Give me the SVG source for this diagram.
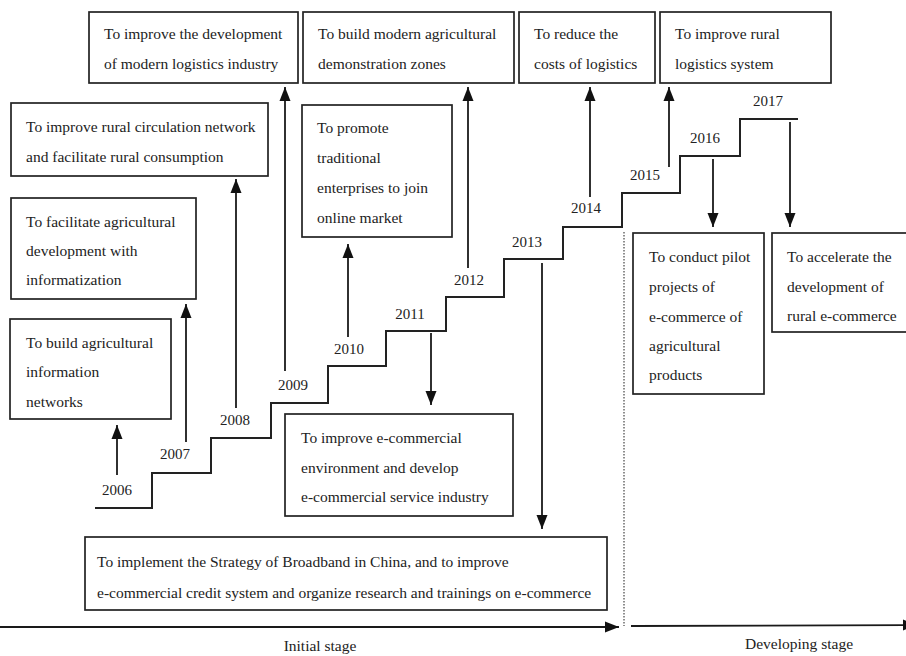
<svg xmlns="http://www.w3.org/2000/svg" width="906" height="656" viewBox="0 0 906 656">
<style>
.box{fill:#fff;stroke:#222;stroke-width:1.7}
.t{font-family:"Liberation Serif","Times New Roman",serif;font-size:15.5px;fill:#222}
.y{font-family:"Liberation Serif","Times New Roman",serif;font-size:15px;fill:#222;text-anchor:middle}
.c{fill:none;stroke:#1a1a1a;stroke-width:1.8}
.st{fill:none;stroke:#222;stroke-width:2}
.dot{fill:none;stroke:#444;stroke-width:1.2;stroke-dasharray:1.5 1.5}
</style>
<defs>
<marker id="ah" viewBox="0 0 14 12" refX="14" refY="6" markerWidth="14" markerHeight="12" markerUnits="userSpaceOnUse" orient="auto">
<path d="M0,0.5 L14,6 L0,11.5z" fill="#111"/>
</marker>
</defs>
<rect width="906" height="656" fill="#fff"/>

<g id="staircase">
<path class="st" d="M95,508 H152 V473 H211 V438 H271 V403 H328 V366 H386 V331 H446 V297 H504 V259 H563 V227 H622 V193 H680 V156 H740 V119 H798"/>
<text class="y" x="117" y="495">2006</text>
<text class="y" x="175" y="459">2007</text>
<text class="y" x="235" y="425">2008</text>
<text class="y" x="293" y="390">2009</text>
<text class="y" x="349" y="354">2010</text>
<text class="y" x="410" y="319">2011</text>
<text class="y" x="469" y="285">2012</text>
<text class="y" x="527" y="247">2013</text>
<text class="y" x="586" y="213">2014</text>
<text class="y" x="645" y="180">2015</text>
<text class="y" x="705" y="143">2016</text>
<text class="y" x="768" y="106">2017</text>
</g>

<g id="node-logistics-industry">
<rect class="box" x="89" y="12" width="209" height="71"/>
<text class="t" x="104" y="39">To improve the development</text>
<text class="t" x="104" y="69">of modern logistics industry</text>
</g>
<g id="node-demonstration-zones">
<rect class="box" x="303" y="12" width="211" height="71"/>
<text class="t" x="318" y="39">To build modern agricultural</text>
<text class="t" x="318" y="69">demonstration zones</text>
</g>
<g id="node-reduce-costs">
<rect class="box" x="519" y="12" width="136" height="71"/>
<text class="t" x="534" y="39">To reduce the</text>
<text class="t" x="534" y="69">costs of logistics</text>
</g>
<g id="node-rural-logistics">
<rect class="box" x="660" y="12" width="171" height="71"/>
<text class="t" x="675" y="39">To improve rural</text>
<text class="t" x="675" y="69">logistics system</text>
</g>
<g id="node-circulation-network">
<rect class="box" x="11" y="103" width="257" height="73"/>
<text class="t" x="26" y="132">To improve rural circulation network</text>
<text class="t" x="26" y="162">and facilitate rural consumption</text>
</g>
<g id="node-traditional-enterprises">
<rect class="box" x="302" y="105" width="150" height="132"/>
<text class="t" x="317" y="133">To promote</text>
<text class="t" x="317" y="163">traditional</text>
<text class="t" x="317" y="193">enterprises to join</text>
<text class="t" x="317" y="223">online market</text>
</g>
<g id="node-informatization">
<rect class="box" x="11" y="198" width="185" height="101"/>
<text class="t" x="26" y="227">To facilitate agricultural</text>
<text class="t" x="26" y="256">development with</text>
<text class="t" x="26" y="285">informatization</text>
</g>
<g id="node-information-networks">
<rect class="box" x="10" y="319" width="161" height="100"/>
<text class="t" x="26" y="348">To build agricultural</text>
<text class="t" x="26" y="377">information</text>
<text class="t" x="26" y="407">networks</text>
</g>
<g id="node-ecommercial-environment">
<rect class="box" x="285" y="414" width="228" height="102"/>
<text class="t" x="301" y="443">To improve e-commercial</text>
<text class="t" x="301" y="473">environment and develop</text>
<text class="t" x="301" y="502">e-commercial service industry</text>
</g>
<g id="node-broadband">
<rect class="box" x="85" y="537" width="522" height="73"/>
<text class="t" x="97" y="567">To implement the Strategy of Broadband in China, and to improve</text>
<text class="t" x="97" y="598">e-commercial credit system and organize research and trainings on e-commerce</text>
</g>
<g id="node-pilot-projects">
<rect class="box" x="633" y="233" width="131" height="161"/>
<text class="t" x="649" y="262">To conduct pilot</text>
<text class="t" x="649" y="292">projects of</text>
<text class="t" x="649" y="322">e-commerce of</text>
<text class="t" x="649" y="351">agricultural</text>
<text class="t" x="649" y="380">products</text>
</g>
<g id="node-rural-ecommerce">
<rect class="box" x="772" y="233" width="145" height="99"/>
<text class="t" x="787" y="262">To accelerate the</text>
<text class="t" x="787" y="292">development of</text>
<text class="t" x="787" y="321">rural e-commerce</text>
</g>

<g id="connectors">
<line class="c" x1="117" y1="475" x2="117" y2="425" marker-end="url(#ah)"/>
<line class="c" x1="186" y1="442" x2="186" y2="304" marker-end="url(#ah)"/>
<line class="c" x1="236" y1="408" x2="236" y2="179" marker-end="url(#ah)"/>
<line class="c" x1="285" y1="371" x2="285" y2="87" marker-end="url(#ah)"/>
<line class="c" x1="348" y1="337" x2="348" y2="244" marker-end="url(#ah)"/>
<line class="c" x1="431" y1="333" x2="431" y2="405" marker-end="url(#ah)"/>
<line class="c" x1="468" y1="268" x2="468" y2="87" marker-end="url(#ah)"/>
<line class="c" x1="542" y1="263" x2="542" y2="529" marker-end="url(#ah)"/>
<line class="c" x1="590" y1="197" x2="590" y2="87" marker-end="url(#ah)"/>
<line class="c" x1="669" y1="167" x2="669" y2="87" marker-end="url(#ah)"/>
<line class="c" x1="713" y1="159" x2="713" y2="227" marker-end="url(#ah)"/>
<line class="c" x1="790" y1="122" x2="790" y2="227" marker-end="url(#ah)"/>
</g>

<g id="stages">
<line class="dot" x1="624" y1="232" x2="624" y2="626"/>
<line class="c" x1="0" y1="627" x2="619" y2="627" marker-end="url(#ah)"/>
<line class="c" x1="631" y1="626" x2="917" y2="625" marker-end="url(#ah)"/>
<text class="t" x="320" y="651" text-anchor="middle">Initial stage</text>
<text class="t" x="799" y="649" text-anchor="middle">Developing stage</text>
</g>
</svg>
